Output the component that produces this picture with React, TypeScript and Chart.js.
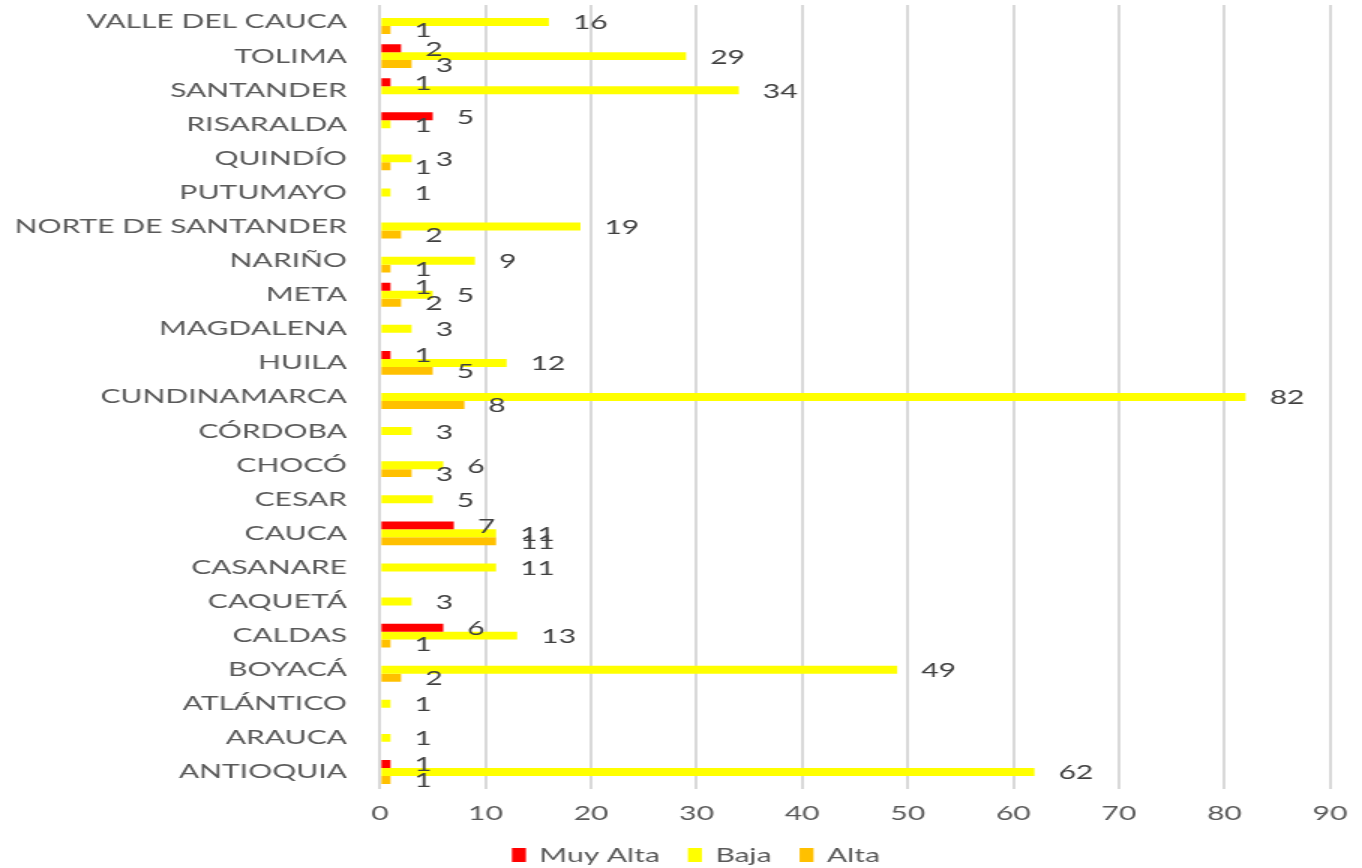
import React, { useEffect, useRef } from "react";
import { Chart, registerables } from "chart.js";

Chart.register(...registerables);

const categories = [
  "VALLE DEL CAUCA", "TOLIMA", "SANTANDER", "RISARALDA", "QUINDÍO", "PUTUMAYO",
  "NORTE DE SANTANDER", "NARIÑO", "META", "MAGDALENA", "HUILA", "CUNDINAMARCA",
  "CÓRDOBA", "CHOCÓ", "CESAR", "CAUCA", "CASANARE", "CAQUETÁ", "CALDAS",
  "BOYACÁ", "ATLÁNTICO", "ARAUCA", "ANTIOQUIA",
];
const muyAlta = [null, 2, 1, 5, null, null, null, null, 1, null, 1, null, null, null, null, 7, null, null, 6, null, null, null, 1];
const baja = [16, 29, 34, 1, 3, 1, 19, 9, 5, 3, 12, 82, 3, 6, 5, 11, 11, 3, 13, 49, 1, 1, 62];
const alta = [1, 3, null, null, 1, null, 2, 1, 2, null, 5, 8, null, 3, null, 11, null, null, 1, 2, null, null, 1];
const seriesNames = ["Muy Alta", "Baja", "Alta"];
const seriesColors = ["#FF0000", "#FFFF00", "#FFC000"];
const xMin = 0;
const xMax = 90;
const xStep = 10;

const STRETCH = 1.5;
const OUT_W = 1362;
const OUT_H = 868;
const IN_W = Math.round(OUT_W / STRETCH);
const FONT = "Lato";

const dataLabels = {
  id: "dataLabels",
  afterDatasetsDraw(chart: any) {
    const ctx = chart.ctx;
    ctx.save();
    ctx.font = `20px ${FONT}`;
    ctx.fillStyle = "#404040";
    ctx.textAlign = "left";
    ctx.textBaseline = "middle";
    chart.data.datasets.forEach((ds: any, di: number) => {
      const meta = chart.getDatasetMeta(di);
      meta.data.forEach((el: any, i: number) => {
        const v = ds.data[i];
        if (v === null || v === undefined) return;
        ctx.fillText(String(v), el.x + 16, el.y + 1);
      });
    });
    ctx.restore();
  },
};

const customLegend = {
  id: "customLegend",
  afterDraw(chart: any) {
    const ctx = chart.ctx;
    ctx.save();
    ctx.font = `20px ${FONT}`;
    ctx.textBaseline = "middle";
    ctx.textAlign = "left";
    const box = 9.3;
    const gapBoxText = 9;
    const gapItems = 18.7;
    const items = chart.data.datasets.map((ds: any) => ({
      label: ds.label,
      color: ds.backgroundColor,
      w: ctx.measureText(ds.label).width,
    }));
    const total = items.reduce((s: number, it: any) => s + box + gapBoxText + it.w, 0) + gapItems * (items.length - 1);
    let x = 464 - total / 2;
    const y = 855;
    items.forEach((it: any) => {
      ctx.fillStyle = it.color;
      ctx.fillRect(x, y - 7, box, 14);
      x += box + gapBoxText;
      ctx.fillStyle = "#595959";
      ctx.fillText(it.label, x, y + 1);
      x += it.w + gapItems;
    });
    ctx.restore();
  },
};

export default function App() {
  const ref = useRef<HTMLCanvasElement | null>(null);
  useEffect(() => {
    document.body.style.margin = "0";
    const canvas = ref.current!;
    const chart = new Chart(canvas, {
      type: "bar",
      data: {
        labels: categories,
        datasets: [muyAlta, baja, alta].map((d, i) => ({
          label: seriesNames[i],
          data: d as any,
          backgroundColor: seriesColors[i],
          borderWidth: 0,
          barPercentage: 1,
          categoryPercentage: 0.7,
        })),
      },
      options: {
        indexAxis: "y",
        responsive: false,
        animation: false,
        devicePixelRatio: 1,
        layout: { padding: { left: 0, right: IN_W - 886.7, top: 5, bottom: 40 } },
        plugins: {
          legend: { display: false },
          tooltip: { enabled: false },
        },
        scales: {
          x: {
            min: xMin,
            max: xMax,
            ticks: { stepSize: xStep, font: { family: FONT, size: 20 }, color: "#595959", padding: 13 },
            grid: { color: "#d9d9d9", lineWidth: 2, drawTicks: false },
            border: { display: false },
            afterFit: (s: any) => {
              s.height = OUT_H - 789 - 40;
              s.paddingLeft = 0;
              s.paddingRight = 0;
            },
          },
          y: {
            ticks: { font: { family: FONT, size: 20 }, color: "#595959", padding: 22, autoSkip: false },
            grid: { display: false, drawTicks: false },
            border: { display: false },
            afterFit: (s: any) => {
              s.width = 253.3;
              s.paddingTop = 0;
              s.paddingBottom = 0;
            },
          },
        },
      },
      plugins: [dataLabels, customLegend],
    } as any);
    return () => chart.destroy();
  }, []);
  return (
    <div style={{ position: "absolute", left: 0, top: 0, width: OUT_W, height: OUT_H, background: "#fff" }}>
      <canvas
        ref={ref}
        width={IN_W}
        height={OUT_H}
        style={{ width: OUT_W + "px", height: OUT_H + "px", display: "block" }}
      />
    </div>
  );
}
